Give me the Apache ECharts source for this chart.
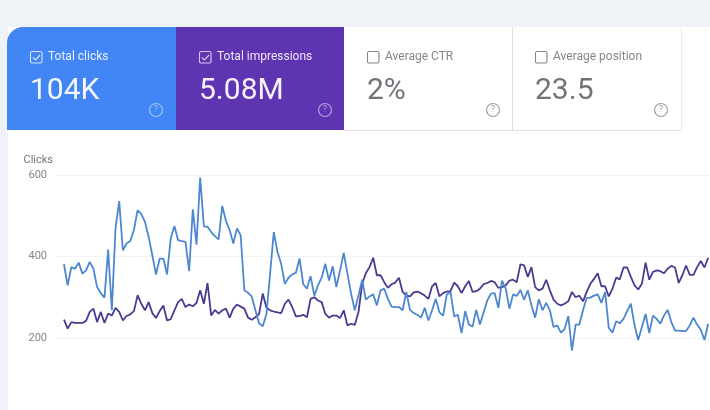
<!DOCTYPE html>
<html>
<head>
<meta charset="utf-8">
<style>
html, body { margin: 0; padding: 0; background: #eff3f8; }
#chart { width: 710px; height: 410px; }
</style>
<script src="https://cdn.jsdelivr.net/npm/echarts@6/dist/echarts.min.js"></script>
</head>
<body>
<div id="chart"></div>
<script>
var cardTitles = ['Total clicks', 'Total impressions', 'Average CTR', 'Average position'];
var cardValues = ['104K', '5.08M', '2%', '23.5'];
var cardChecked = [true, true, false, false];

var clicks = [
  381, 329, 374, 370, 385, 358, 366, 387, 370, 325, 310, 299, 417, 268, 469, 536,
  415, 432, 438, 465, 514, 504, 485, 448, 403, 356, 395, 395, 356, 444, 475, 440,
  438, 436, 364, 516, 429, 594, 474, 473, 460, 450, 442, 524, 487, 465, 432, 469,
  452, 317, 311, 302, 268, 236, 229, 259, 358, 460, 411, 382, 333, 348, 356, 360,
  395, 332, 321, 352, 304, 329, 348, 382, 341, 376, 325, 366, 409, 358, 309, 268,
  304, 343, 294, 302, 307, 280, 317, 321, 296, 277, 276, 276, 268, 313, 269, 261,
  257, 250, 274, 243, 268, 296, 263, 255, 307, 313, 253, 257, 212, 266, 233, 228,
  269, 233, 263, 292, 309, 310, 274, 341, 321, 272, 307, 303, 318, 294, 317, 280,
  250, 295, 268, 286, 268, 227, 231, 213, 222, 254, 169, 233, 233, 268, 298, 299,
  304, 307, 286, 313, 225, 213, 241, 236, 247, 266, 284, 231, 195, 227, 259, 212,
  255, 247, 235, 255, 269, 239, 218, 218, 217, 217, 231, 250, 233, 220, 195, 235
];
var impressions = [
  245, 223, 239, 237, 237, 237, 242, 264, 272, 239, 264, 237, 260, 255, 274, 264,
  243, 254, 258, 266, 305, 284, 268, 288, 261, 249, 266, 280, 243, 246, 268, 288,
  296, 276, 282, 278, 286, 317, 284, 335, 255, 269, 260, 268, 272, 250, 272, 282,
  277, 272, 250, 245, 251, 259, 309, 274, 268, 265, 263, 261, 284, 294, 276, 253,
  254, 257, 251, 296, 300, 292, 288, 259, 250, 255, 255, 249, 268, 231, 235, 232,
  263, 333, 359, 374, 397, 354, 354, 337, 323, 332, 336, 348, 313, 304, 302, 312,
  314, 310, 304, 296, 327, 335, 302, 310, 314, 315, 336, 327, 310, 327, 340, 313,
  315, 321, 332, 335, 340, 337, 323, 325, 329, 341, 343, 337, 381, 378, 350, 374,
  325, 317, 321, 343, 317, 294, 284, 280, 284, 290, 313, 300, 304, 290, 313, 333,
  345, 359, 327, 327, 302, 321, 348, 344, 373, 373, 350, 329, 319, 333, 385, 343,
  362, 366, 364, 359, 370, 377, 373, 335, 354, 378, 355, 355, 374, 389, 373, 397
];
var yTicks = [0, 200, 400, 600];

var cardX = [7, 176, 344, 512];
var cardW = [169, 168, 168, 169];
var cardBg = ['#4285f4', '#5e35b1', '#ffffff', '#ffffff'];
var cardText = ['#eaf2fe', '#efe8fa', '#80868b', '#80868b'];
var cardNum = ['#f6f9ff', '#f6f1fd', '#70757a', '#70757a'];
var cardLine = ['#d4e4fc', '#d9c9f2', '#80868b', '#80868b'];
var cardHelp = ['#9fc3f9', '#b79ce3', '#9aa0a6', '#9aa0a6'];

var graphics = [
  { type: 'rect', z: -1, silent: true, shape: { x: 8, y: 27, width: 702, height: 383 }, style: { fill: '#ffffff' } }
];

cardTitles.forEach(function (title, i) {
  var x = cardX[i];
  graphics.push({
    type: 'rect', silent: true,
    shape: { x: x, y: 27, width: cardW[i], height: 103, r: i === 0 ? [16, 0, 0, 0] : 0 },
    style: { fill: cardBg[i] }
  });
  graphics.push({
    type: 'rect', silent: true,
    shape: { x: x + 23.5, y: 51.5, width: 11.5, height: 11.5, r: 1.5 },
    style: { fill: 'none', stroke: cardLine[i], lineWidth: 1.1 }
  });
  if (cardChecked[i]) {
    graphics.push({
      type: 'polyline', silent: true,
      shape: { points: [[x + 26, 57.5], [x + 28.5, 60], [x + 33, 55]] },
      style: { fill: 'none', stroke: cardLine[i], lineWidth: 1.2 }
    });
  }
  graphics.push({
    type: 'text', silent: true, x: x + 41, y: 57,
    style: { text: title, fill: cardText[i], font: '12px Roboto', textVerticalAlign: 'middle' }
  });
  graphics.push({
    type: 'text', silent: true, x: x + 23, y: 91,
    style: { text: cardValues[i], fill: cardNum[i], font: '30px Roboto', textVerticalAlign: 'middle' }
  });
  graphics.push({
    type: 'circle', silent: true,
    shape: { cx: x + 149, cy: 110, r: 6.5 },
    style: { fill: 'none', stroke: cardHelp[i], lineWidth: 1.2 }
  });
  graphics.push({
    type: 'text', silent: true, x: x + 149, y: 110,
    style: { text: '?', fill: cardHelp[i], font: '9px Roboto', textAlign: 'center', textVerticalAlign: 'middle' }
  });
});

// card borders go over the white cards
graphics.push(
  { type: 'line', silent: true, shape: { x1: 344, y1: 130.5, x2: 681, y2: 130.5 }, style: { stroke: '#e0e0e0', lineWidth: 1 } },
  { type: 'line', silent: true, shape: { x1: 512.5, y1: 27, x2: 512.5, y2: 130 }, style: { stroke: '#e0e0e0', lineWidth: 1 } },
  { type: 'line', silent: true, shape: { x1: 681.5, y1: 27, x2: 681.5, y2: 130 }, style: { stroke: '#ebebeb', lineWidth: 1 } }
);

function indexed(values) {
  return values.map(function (v, i) { return [i, v]; });
}

var chart = echarts.init(document.getElementById('chart'));
chart.setOption({
  animation: false,
  backgroundColor: '#eff3f8',
  graphic: graphics,
  grid: { left: 56, right: 0, top: 175, bottom: -9.5, outerBoundsMode: 'none' },
  xAxis: {
    type: 'value',
    min: -2.17,
    max: 175.5,
    show: false
  },
  yAxis: {
    type: 'value',
    min: yTicks[0],
    max: yTicks[yTicks.length - 1],
    interval: 200,
    name: 'Clicks',
    nameGap: 9,
    nameTextStyle: { color: '#70757a', fontFamily: 'Roboto', fontSize: 11, align: 'right', padding: [0, 11, 0, 0] },
    axisLine: { show: false },
    axisTick: { show: false },
    axisLabel: { color: '#80868b', fontFamily: 'Roboto', fontSize: 11, margin: 9 },
    splitLine: { lineStyle: { color: '#f3f4f5', width: 1 } }
  },
  series: [
    {
      name: 'Impressions',
      type: 'line',
      data: indexed(impressions),
      showSymbol: false,
      lineStyle: { color: '#4b3a8f', width: 1.8 }
    },
    {
      name: 'Clicks',
      type: 'line',
      data: indexed(clicks),
      showSymbol: false,
      lineStyle: { color: '#4c87cf', width: 1.8 }
    }
  ]
});
</script>
</body>
</html>
